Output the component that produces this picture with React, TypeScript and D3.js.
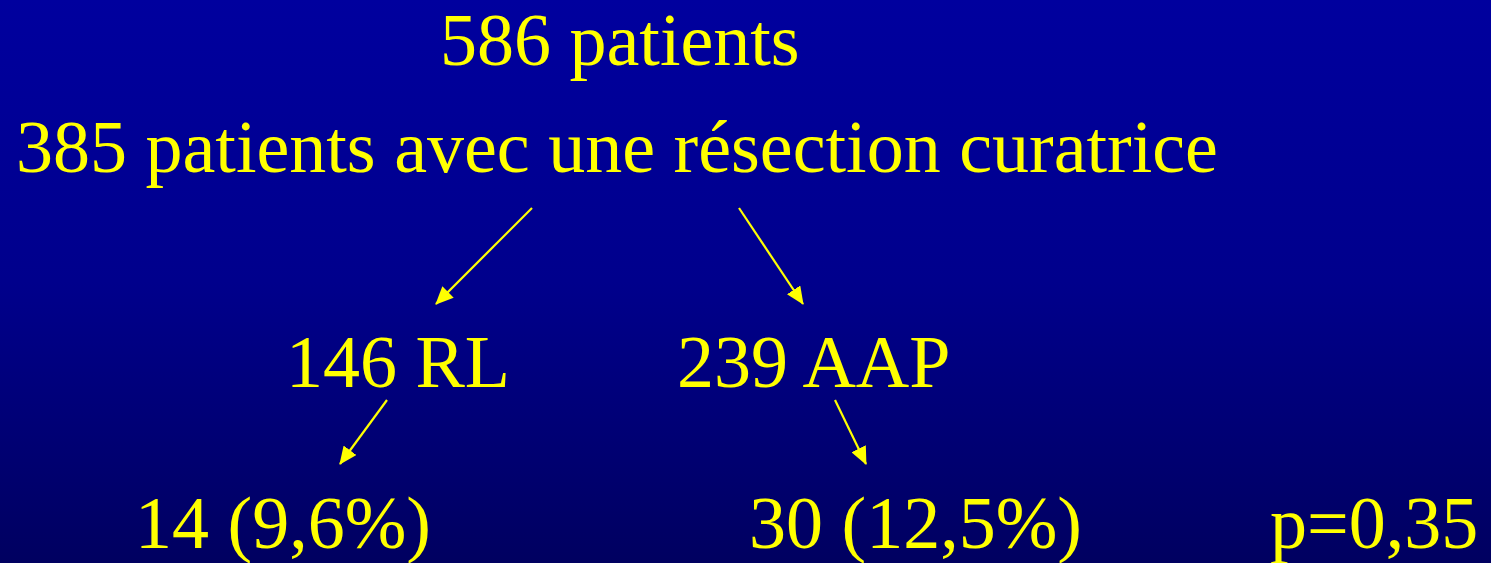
import { useEffect, useRef } from 'react';
import * as d3 from 'd3';

// node labels of the flow diagram
const headerLabels = ['586 patients', '385 patients avec une résection curatrice'];
const groupLabels = ['146 RL', '239 AAP'];
const outcomeLabels = ['14 (9,6%)', '30 (12,5%)'];
const pValueLabel = 'p=0,35';

const WIDTH = 1491;
const HEIGHT = 563;

export default function App() {
  const svgRef = useRef<SVGSVGElement>(null);

  useEffect(() => {
    if (!svgRef.current) return;
    const svg = d3.select(svgRef.current);
    svg.selectAll('*').remove();

    const defs = svg.append('defs');

    // background gradient (bright blue on top, darker at bottom)
    const grad = defs
      .append('linearGradient')
      .attr('id', 'bgGradient')
      .attr('x1', '0%')
      .attr('x2', '0%')
      .attr('y1', '0%')
      .attr('y2', '100%');
    grad.append('stop').attr('offset', '0%').attr('stop-color', '#00009e');
    grad.append('stop').attr('offset', '50%').attr('stop-color', '#00008c');
    grad.append('stop').attr('offset', '100%').attr('stop-color', '#000060');

    defs
      .append('marker')
      .attr('id', 'arrowHead')
      .attr('markerUnits', 'userSpaceOnUse')
      .attr('viewBox', '0 0 18 16')
      .attr('refX', 17)
      .attr('refY', 8)
      .attr('markerWidth', 18)
      .attr('markerHeight', 16)
      .attr('orient', 'auto')
      .append('path')
      .attr('d', 'M0,0 L18,8 L0,16 Z')
      .attr('fill', '#ffff00');

    svg
      .append('rect')
      .attr('width', WIDTH)
      .attr('height', HEIGHT)
      .attr('fill', 'url(#bgGradient)');

    const yellow = '#ffff00';
    const font = "'Liberation Serif', 'Times New Roman', serif";
    const fontSize = 74;

    // rows: baseline of each text row
    const rowY = d3.scaleOrdinal<string, number>()
      .domain(['top', 'cohort', 'group', 'outcome'])
      .range([65, 172, 387, 548]);

    const texts = [
      { label: headerLabels[0], x: 440, row: 'top' },
      { label: headerLabels[1], x: 16, row: 'cohort' },
      { label: groupLabels[0], x: 286, row: 'group' },
      { label: groupLabels[1], x: 677, row: 'group' },
      { label: outcomeLabels[0], x: 135, row: 'outcome' },
      { label: outcomeLabels[1], x: 749, row: 'outcome' },
      { label: pValueLabel, x: 1270, row: 'outcome' }
    ];

    svg
      .selectAll('.label')
      .data(texts)
      .enter()
      .append('text')
      .attr('class', 'label')
      .attr('x', d => d.x)
      .attr('y', d => rowY(d.row))
      .attr('fill', yellow)
      .attr('font-family', font)
      .attr('font-size', fontSize)
      .text(d => d.label);

    // arrows between the rows
    const arrows = [
      { x1: 532, y1: 208, x2: 436, y2: 304 },
      { x1: 739, y1: 208, x2: 803, y2: 304 },
      { x1: 387, y1: 400, x2: 340, y2: 464 },
      { x1: 835, y1: 400, x2: 866, y2: 464 }
    ];

    svg
      .selectAll('.arrow')
      .data(arrows)
      .enter()
      .append('line')
      .attr('class', 'arrow')
      .attr('x1', d => d.x1)
      .attr('y1', d => d.y1)
      .attr('x2', d => d.x2)
      .attr('y2', d => d.y2)
      .attr('stroke', yellow)
      .attr('stroke-width', 2.2)
      .attr('marker-end', 'url(#arrowHead)');
  }, []);

  return (
    <svg
      ref={svgRef}
      width={WIDTH}
      height={HEIGHT}
      style={{ position: 'fixed', left: 0, top: 0, display: 'block' }}
    ></svg>
  );
}
